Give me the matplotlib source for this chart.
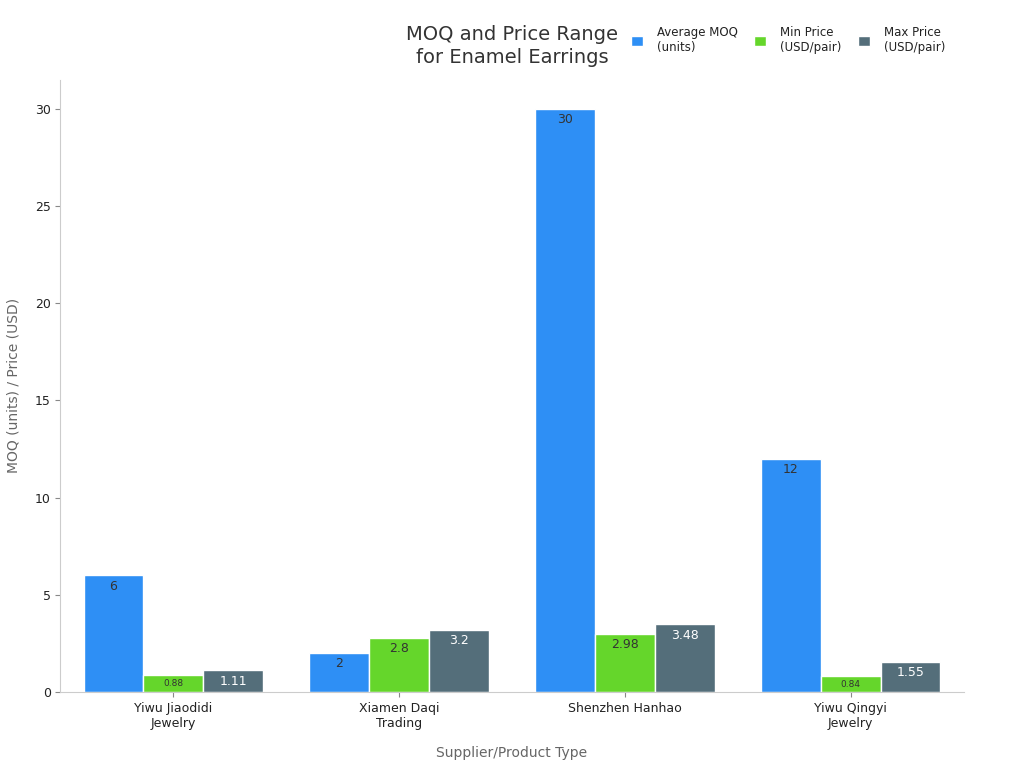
import matplotlib.pyplot as plt
import numpy as np

suppliers = ["Yiwu Jiaodidi\nJewelry", "Xiamen Daqi\nTrading", "Shenzhen Hanhao", "Yiwu Qingyi\nJewelry"]
avg_moq = [6, 2, 30, 12]
min_price = [0.88, 2.8, 2.98, 0.84]
max_price = [1.11, 3.2, 3.48, 1.55]

series = [
    ("Average MOQ\n(units)", avg_moq, "#2E8FF5", "#333333"),
    ("Min Price\n(USD/pair)", min_price, "#65D62B", "#333333"),
    ("Max Price\n(USD/pair)", max_price, "#546E7A", "white"),
]

fig = plt.figure(figsize=(10.24, 7.68), dpi=100)
ax = fig.add_axes([0.059, 0.099, 0.882, 0.797])

x = np.arange(len(suppliers))
w = 0.265
for i, (name, vals, color, tcol) in enumerate(series):
    pos = x + (i - 1) * w
    ax.bar(pos, vals, w, color=color, edgecolor="white", linewidth=1, label=name)
    for xi, v in zip(pos, vals):
        fs = 6.5 if v < 1 else 9
        ax.annotate(f"{v:g}", (xi, v), xytext=(0, -3), textcoords="offset points",
                    ha="center", va="top", fontsize=fs, color=tcol)

ax.set_xticks(x)
ax.set_xticklabels(suppliers, fontsize=9, color="#222222")
ax.set_xlim(-0.5, 3.5)
ax.set_ylim(0, 31.5)
ax.set_yticks([0, 5, 10, 15, 20, 25, 30])
ax.tick_params(axis="y", labelsize=9, colors="#222222")
ax.tick_params(axis="both", color="#888888")
for s in ["top", "right"]:
    ax.spines[s].set_visible(False)
for s in ["left", "bottom"]:
    ax.spines[s].set_color("#cccccc")
ax.set_xlabel("Supplier/Product Type", fontsize=10, color="#666666", labelpad=12)
ax.set_ylabel("MOQ (units) / Price (USD)", fontsize=10, color="#666666", labelpad=10)

fig.text(0.5, 0.94, "MOQ and Price Range\nfor Enamel Earrings", ha="center", va="center",
         fontsize=14, color="#333333", linespacing=1.3)
ax.legend(loc="upper left", bbox_to_anchor=(0.62, 1.105), ncol=3, frameon=False,
          fontsize=8.5, handlelength=1.0, handleheight=1.0, handletextpad=1.2,
          columnspacing=1.4, labelcolor="#222222")

fig.savefig("out.png", dpi=100)
